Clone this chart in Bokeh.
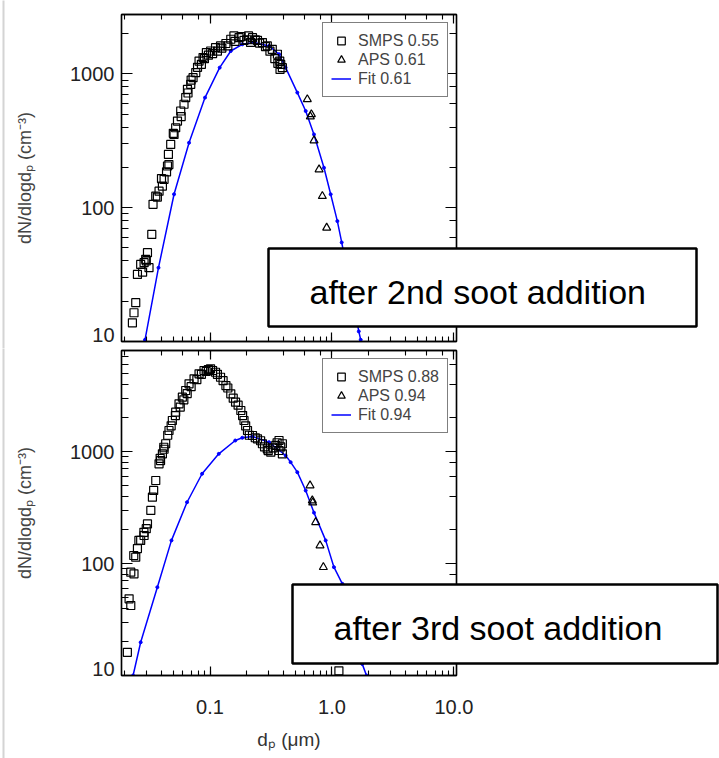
import numpy as np
from bokeh.plotting import figure
from bokeh.layouts import column
from bokeh.models import (LogAxis, LogTicker, CustomJSTickFormatter, Legend, LegendItem,
                          Range1d)
from bokeh.core.properties import value
from bokeh.embed import file_html
from bokeh.resources import INLINE

# ---------------- data ----------------
# Panel 1: after 2nd soot addition
smps2_d = [0.0231, 0.0238, 0.0246, 0.0254, 0.0270, 0.0288, 0.0297, 0.0307, 0.0316, 0.0333,
           0.0341, 0.0359, 0.0382, 0.0407, 0.0420, 0.0448, 0.0456, 0.0476, 0.0507, 0.0523,
           0.0541, 0.0575, 0.0612, 0.0632, 0.0653, 0.0695, 0.0726, 0.0764, 0.0813, 0.0877,
           0.0934, 0.1013, 0.111, 0.122, 0.135, 0.148, 0.157, 0.173, 0.190, 0.207,
           0.223, 0.245, 0.269, 0.295, 0.324, 0.357, 0.373, 0.380, 0.392,
           0.028, 0.030, 0.037, 0.040, 0.044, 0.046, 0.050, 0.058, 0.066, 0.070,
           0.079, 0.085, 0.090, 0.097, 0.105, 0.115, 0.125, 0.140, 0.160, 0.180,
           0.200, 0.215, 0.235, 0.255, 0.285, 0.310, 0.340, 0.360, 0.375]
smps2_n = [13.8, 16.4, 19.5, 31.7, 37.7, 38.8, 41.1, 46.1, 35.6, 63.1,
           106, 122, 133, 145, 163, 205, 250, 297, 353, 396,
           444, 528, 593, 665, 767, 836, 938, 1023, 1248, 1324,
           1443, 1483, 1572, 1618, 1687, 1816, 1924, 1867, 1782, 1924,
           1867, 1782, 1714, 1618, 1528, 1403, 1248, 1178, 1113,
           33, 40, 120, 165, 185, 210, 360, 480, 720, 900,
           1120, 1180, 1300, 1380, 1420, 1480, 1560, 1620, 1750, 1900,
           1800, 1720, 1800, 1700, 1600, 1480, 1300, 1200, 1080]
aps2_d = [0.628, 0.665, 0.678, 0.713, 0.784, 0.834, 0.905]
aps2_n = [646, 480, 499, 318, 193, 122, 70.8]
fit2_d = [0.0293, 0.0378, 0.0507, 0.0673, 0.0910, 0.120, 0.148, 0.184, 0.230, 0.305,
          0.368, 0.417, 0.520, 0.609, 0.712, 0.860, 0.976, 1.107, 1.202, 1.66, 1.72]
fit2_n = [10.3, 35.6, 126, 306, 665, 1114, 1483, 1664, 1714, 1618,
          1403, 1114, 725, 528, 353, 199, 126, 79.4, 55, 11.9, 10.3]
legend2 = ["SMPS 0.55", "APS 0.61", "Fit 0.61"]
note2 = "after 2nd soot addition"

# Panel 2: after 3rd soot addition
smps3_d = [0.0210, 0.0217, 0.0224, 0.0224, 0.0238, 0.0246, 0.0254, 0.0270, 0.0288, 0.0307,
           0.0327, 0.0337, 0.0359, 0.0382, 0.0407, 0.0433, 0.0461, 0.0491, 0.0523, 0.0557,
           0.0593, 0.0632, 0.0673, 0.0740, 0.0813, 0.0893, 0.101, 0.111, 0.122, 0.135,
           0.148, 0.162, 0.179, 0.190, 0.203, 0.223, 0.245, 0.269, 0.295, 0.315,
           0.346, 0.368, 0.392, 0.392, 0.368, 1.14,
           0.0287, 0.0300, 0.0345, 0.039, 0.042, 0.045, 0.048, 0.052, 0.057, 0.061,
           0.065, 0.070, 0.078, 0.085, 0.093, 0.097, 0.105, 0.115, 0.128, 0.140,
           0.155, 0.170, 0.185, 0.196, 0.210, 0.235, 0.260, 0.280, 0.300, 0.330,
           0.355, 0.380, 0.0237, 0.0261, 0.0393, 0.0418]
smps3_n = [16.1, 48.4, 42.2, 83.7, 81.0, 114, 136, 161, 178, 226,
           298, 392, 552, 778, 955, 1175, 1543, 1896, 2250, 2673,
           3064, 3513, 4034, 4470, 4955, 5300, 5487, 5117, 4613, 3890,
           3282, 2762, 2328, 1896, 1543, 1393, 1300, 1175, 1059, 989,
           1135, 1256, 1175, 955, 1023, 11,
           190, 205, 450, 870, 1050, 1400, 1700, 2100, 2500, 2900,
           3300, 3800, 4400, 4900, 5200, 5400, 5300, 4900, 4300, 3700,
           3000, 2600, 2100, 1700, 1400, 1330, 1250, 1100, 1020, 1080,
           1200, 1100, 118, 161, 832, 1094]
aps3_d = [0.661, 0.690, 0.695, 0.735, 0.798, 0.850]
aps3_n = [498, 366, 350, 234, 145, 92.8]
fit3_d = [0.0234, 0.0270, 0.0370, 0.0483, 0.0648, 0.0861, 0.118, 0.161, 0.184, 0.223,
          0.305, 0.417, 0.458, 0.520, 0.609, 0.712, 0.888, 1.038, 1.217, 1.77, 1.92]
fit3_n = [10, 19.8, 61.5, 161, 353, 634, 955, 1256, 1329, 1365,
          1213, 923, 805, 655, 449, 285, 161, 92.8, 65.9, 12.7, 10]
legend3 = ["SMPS 0.88", "APS 0.94", "Fit 0.94"]
note3 = "after 3rd soot addition"

x_range = (0.0188, 10.5)
y_range_top = (10, 2780)
y_range_bot = (10, 8000)
x_title = "d\u209a (\u03bcm)"
y_title = "dN/dlogd\u209a (cm\u207b\u00b3)"

# ---------------- layout constants (canvas pixels) ----------------
W = 719
FX0, FX1 = 121, 456
FONT = "Liberation Sans"


def px_to_x(px):
    a, b = np.log10(x_range[0]), np.log10(x_range[1])
    return 10 ** (a + (px - FX0) / (FX1 - FX0) * (b - a))


def py_to_y(py, fy0, fy1, yr):
    a, b = np.log10(yr[0]), np.log10(yr[1])
    return 10 ** (a + (fy1 - py) / (fy1 - fy0) * (b - a))


def style_axis(ax, is_x, labels):
    ax.axis_line_color = "black"
    ax.axis_line_width = 1.3
    ax.major_tick_line_color = "black"
    ax.minor_tick_line_color = "black"
    ax.major_tick_line_width = 1.2
    ax.minor_tick_line_width = 1.1
    ax.major_tick_out = 0
    ax.minor_tick_out = 0
    if is_x:
        ax.major_tick_in = 9
        ax.minor_tick_in = 5
    else:
        ax.major_tick_in = 11
        ax.minor_tick_in = 7
    if not labels:
        ax.formatter = CustomJSTickFormatter(code="return ''")
        ax.major_label_text_font_size = "0px"
        ax.major_label_standoff = 0
    else:
        ax.major_label_text_font = FONT
        ax.major_label_text_font_size = "20px"
        ax.major_label_text_color = "#222222"


def make_panel(height, b_top, b_bot, fy0, fy1, yr, smps_d, smps_n, aps_d, aps_n,
               fit_d, fit_n, leg, leg_box, note, note_box, note_anchor, low_label_y,
               canvas_y0, x_labels):
    p = figure(width=W, height=height, x_axis_type="log", y_axis_type="log",
               x_range=Range1d(*x_range), y_range=Range1d(*yr),
               output_backend="svg", toolbar_location=None,
               min_border_left=FX0, min_border_right=W - FX1,
               min_border_top=b_top, min_border_bottom=b_bot)
    p.xgrid.visible = False
    p.ygrid.visible = False
    p.outline_line_color = "black"
    p.outline_line_width = 1.4
    p.background_fill_color = "white"
    p.border_fill_color = "white"

    # axes
    style_axis(p.xaxis[0], True, x_labels)
    if x_labels:
        p.xaxis[0].formatter = CustomJSTickFormatter(code="return tick.toFixed(1)")
        p.xaxis[0].major_label_standoff = 24
        p.xaxis[0].axis_label = x_title
        p.xaxis[0].axis_label_standoff = 12
        p.xaxis[0].axis_label_text_font = FONT
        p.xaxis[0].axis_label_text_font_style = "normal"
        p.xaxis[0].axis_label_text_font_size = "19px"
        p.xaxis[0].axis_label_text_color = "#333333"
    style_axis(p.yaxis[0], False, True)
    # the lowest decade label sits on the frame edge: drawn separately below
    p.yaxis[0].formatter = CustomJSTickFormatter(
        code="return tick < 11 ? '' : tick.toFixed(0)")
    p.yaxis[0].major_label_standoff = 7
    p.yaxis[0].axis_label = y_title
    p.yaxis[0].axis_label_standoff = 32
    p.yaxis[0].axis_label_text_font = FONT
    p.yaxis[0].axis_label_text_font_style = "normal"
    p.yaxis[0].axis_label_text_font_size = "18px"
    p.yaxis[0].axis_label_text_color = "#444444"

    top_ax = LogAxis(ticker=LogTicker())
    style_axis(top_ax, True, False)
    p.add_layout(top_ax, "above")
    right_ax = LogAxis(ticker=LogTicker())
    style_axis(right_ax, False, False)
    p.add_layout(right_ax, "right")

    # light grey page edge line at the far left, as in the scanned figure
    edge_x = px_to_x(3)
    p.line(x=[edge_x, edge_x],
           y=[py_to_y(canvas_y0, fy0, fy1, yr), py_to_y(canvas_y0 + height, fy0, fy1, yr)],
           line_color="#d4d4d4", line_width=2, level="overlay")

    # lowest y tick label, raised to sit inside the frame edge (IDL style)
    p.text(x=[px_to_x(FX0 - 7)], y=[py_to_y(low_label_y, fy0, fy1, yr)],
           text=[str(int(yr[0]))], text_align="right", text_baseline="middle",
           text_font=value(FONT), text_font_size="20px", text_color="#222222",
           level="overlay")

    # data
    r_fit = p.line(fit_d, fit_n, line_color="#0000ff", line_width=1.5)
    p.scatter(fit_d, fit_n, size=3, color="#0000ff")
    r_smps = p.scatter(smps_d, smps_n, marker="square", size=8, fill_color=None,
                       line_color="black", line_width=1.2)
    r_aps = p.scatter(aps_d, aps_n, marker="triangle", size=8, fill_color=None,
                      line_color="black", line_width=1.2)

    # legend
    bx0, by0, bx1, by1 = leg_box
    lg = Legend(items=[LegendItem(label=leg[0], renderers=[r_smps]),
                       LegendItem(label=leg[1], renderers=[r_aps]),
                       LegendItem(label=leg[2], renderers=[r_fit])],
                location=(bx0 - FX0, fy1 - by1), margin=0, padding=8, spacing=0,
                glyph_width=20, glyph_height=19, label_height=19, label_width=80,
                label_standoff=7, label_text_font=FONT, label_text_font_size="16px",
                label_text_color="#444444", border_line_color="black",
                border_line_width=1.4, background_fill_color="white",
                background_fill_alpha=1.0)
    p.add_layout(lg)

    # annotation box (drawn on the overlay level so it may extend past the frame)
    l, t, r, b = note_box
    p.quad(left=[px_to_x(l)], right=[px_to_x(r)],
           top=[py_to_y(t, fy0, fy1, yr)], bottom=[py_to_y(b, fy0, fy1, yr)],
           fill_color="white", fill_alpha=1.0, line_color="black", line_width=2.5,
           level="overlay")
    ax_, ay_ = note_anchor
    p.text(x=[px_to_x(ax_)], y=[py_to_y(ay_, fy0, fy1, yr)], text=[note],
           text_align="left", text_baseline="middle",
           text_font=value(FONT), text_font_size="34px", text_color="black",
           level="overlay")
    return p


p1 = make_panel(348, 14, 7, 14, 341, y_range_top, smps2_d, smps2_n, aps2_d, aps2_n,
                fit2_d, fit2_n, legend2, (322, 24, 444, 97), note2,
                (268, 248, 696, 326), (309, 291), 334, 0, False)
p2 = make_panel(410, 2, 83, 350, 675, y_range_bot, smps3_d, smps3_n, aps3_d, aps3_n,
                fit3_d, fit3_n, legend3, (322, 359, 445, 433), note3,
                (292, 584, 717, 663), (333, 627), 668, 348, True)

layout = column(p1, p2, spacing=0)
open("out.html", "w").write(file_html(layout, INLINE))
